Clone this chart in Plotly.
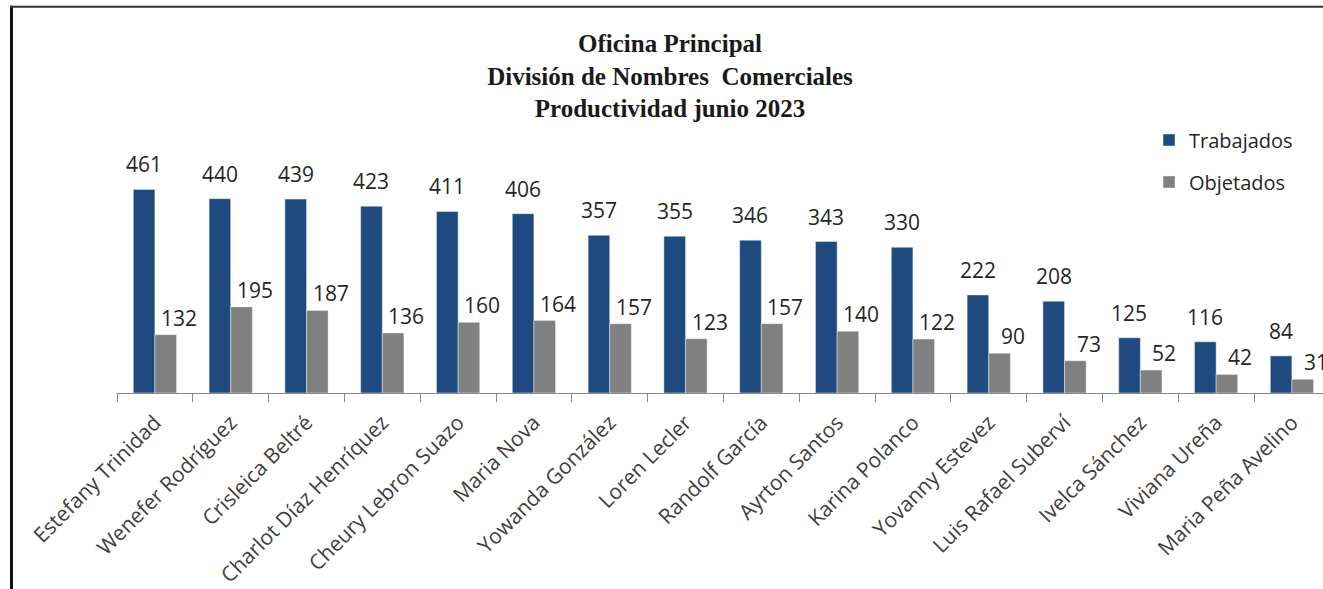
import plotly.graph_objects as go

categorias = ["Estefany Trinidad", "Wenefer Rodríguez", "Crisleica Beltré", "Charlot Díaz Henríquez",
              "Cheury Lebron Suazo", "Maria Nova", "Yowanda González", "Loren Lecler", "Randolf García",
              "Ayrton Santos", "Karina Polanco", "Yovanny Estevez", "Luis Rafael Suberví", "Ivelca Sánchez",
              "Viviana Ureña", "Maria Peña Avelino"]
trabajados = [461, 440, 439, 423, 411, 406, 357, 355, 346, 343, 330, 222, 208, 125, 116, 84]
objetados = [132, 195, 187, 136, 160, 164, 157, 123, 157, 140, 122, 90, 73, 52, 42, 31]

titulo = ["Oficina Principal", "División de Nombres  Comerciales", "Productividad junio 2023"]

AZUL = "#1F4A80"
GRIS = "#808080"
W, H = 1323, 589
ML, MB, MT = 117, 196, 127.5

fig = go.Figure()
fig.add_trace(go.Bar(name="Trabajados", x=categorias, y=trabajados, marker_color=AZUL,
                     legendgroup="a", hoverinfo="x+y"))
fig.add_trace(go.Bar(name="Objetados", x=categorias, y=objetados, marker_color=GRIS,
                     legendgroup="b", hoverinfo="x+y"))

lab_font = dict(family="Open Sans", size=21, color="#262626")
for c, v in zip(categorias, trabajados):
    fig.add_annotation(x=c, y=v, text=str(v), showarrow=False, xshift=-11, yshift=9,
                       yanchor="bottom", font=lab_font)
for c, v in zip(categorias, objetados):
    fig.add_annotation(x=c, y=v, text=str(v), showarrow=False, xshift=24, yshift=1,
                       yanchor="bottom", font=lab_font)

# frame
plot_w = W - ML
plot_h = H - MT - MB
def px_x(p):
    return (p - ML) / plot_w
def px_y(p):
    return (H - MB - p) / plot_h
fig.add_shape(type="line", xref="paper", yref="paper", x0=px_x(11.5), x1=px_x(11.5),
              y0=px_y(5), y1=px_y(600), line=dict(color="#111111", width=3))
fig.add_shape(type="line", xref="paper", yref="paper", x0=px_x(10), x1=px_x(1340),
              y0=px_y(6), y1=px_y(6), line=dict(color="#333333", width=2))

fig.update_layout(
    width=W, height=H,
    margin=dict(l=ML, r=0, t=MT, b=MB, autoexpand=False),
    paper_bgcolor="white", plot_bgcolor="white",
    barmode="group", bargap=0.43, bargroupgap=0,
    title=dict(text="<br>".join(titulo), x=670 / W, xanchor="center", xref="container",
               y=1 - 52 / H, yanchor="top", yref="container",
               font=dict(family="Liberation Serif", size=25, color="#1a1a1a", weight="bold")),
    legend=dict(x=px_x(1149), y=px_y(120), xanchor="left", yanchor="top",
                font=dict(family="Open Sans", size=20, color="#262626"),
                traceorder="grouped", tracegroupgap=13, bgcolor="rgba(0,0,0,0)"),
    xaxis=dict(range=[-0.5, 15.41], showline=True, linecolor="#888888", linewidth=1,
               ticks="outside", tickson="boundaries", ticklen=8, tickcolor="#888888",
               tickangle=-45, ticklabelstandoff=8,
               tickfont=dict(family="Open Sans", size=21, color="#404040"),
               showgrid=False, automargin=False, fixedrange=True),
    yaxis=dict(range=[0, 600], visible=False, showgrid=False, fixedrange=True),
    showlegend=True,
)

fig.write_html("out.html")
